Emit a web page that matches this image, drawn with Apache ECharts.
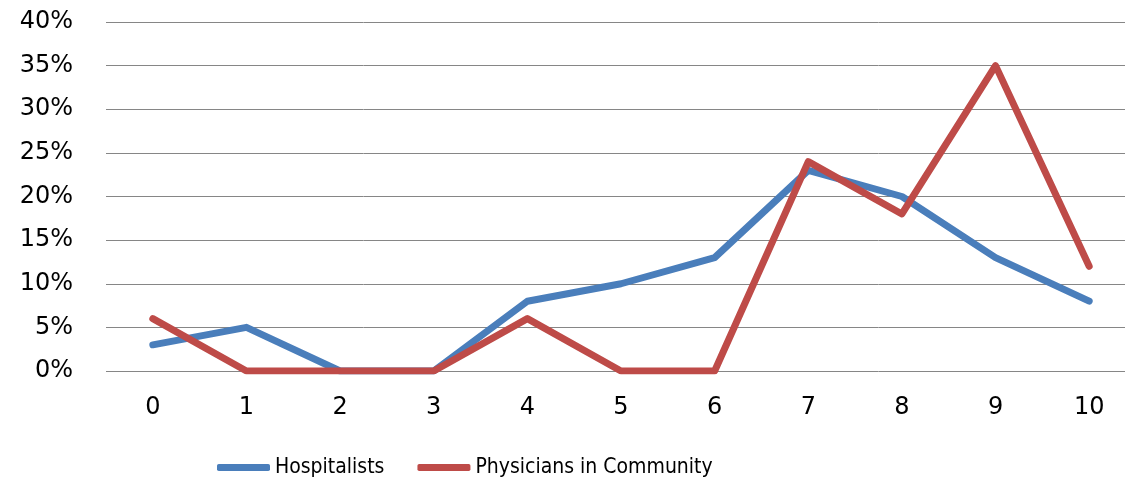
<!DOCTYPE html>
<html>
<head>
<meta charset="utf-8">
<script src="https://cdn.jsdelivr.net/npm/echarts@6/dist/echarts.min.js"></script>
<style>
  html, body { margin: 0; padding: 0; background: #fff; overflow: hidden; }
  /* plot runs slightly past the right edge of the window */
  #chart { width: 1136px; height: 482px; }
</style>
</head>
<body>
<div id="chart"></div>
<script>
// Share of respondents per score (0-10)
const scores = ['0', '1', '2', '3', '4', '5', '6', '7', '8', '9', '10'];
const hospitalists = [3, 5, 0, 0, 8, 10, 13, 23, 20, 13, 8];
const communityPhysicians = [6, 0, 0, 0, 6, 0, 0, 24, 18, 35, 12];
const yTicks = [0, 5, 10, 15, 20, 25, 30, 35, 40];

const chart = echarts.init(document.getElementById('chart'), null, { renderer: 'canvas' });

const axisFont = { fontFamily: 'DejaVu Sans', fontSize: 24, color: '#000' };

chart.setOption({
  animation: false,
  backgroundColor: '#fff',
  grid: { left: 106, top: 22, right: 0, height: 349, containLabel: false },
  xAxis: {
    type: 'category',
    data: scores,
    boundaryGap: true,
    axisLine: { show: false },
    axisTick: { show: false },
    axisLabel: Object.assign({ margin: 25 }, axisFont),
    splitLine: { show: false }
  },
  yAxis: {
    type: 'value',
    min: yTicks[0],
    max: yTicks[yTicks.length - 1],
    interval: 5,
    axisLine: { show: false },
    axisTick: { show: false },
    axisLabel: Object.assign({ margin: 33, formatter: v => v + '%' }, axisFont),
    splitLine: { lineStyle: { color: '#868686', width: 1 } }
  },
  legend: {
    left: 212,
    top: 452,
    itemWidth: 53,
    itemHeight: 7,
    itemGap: 33,
    icon: 'roundRect',
    textStyle: { fontFamily: '"Liberation Sans Narrow", "DejaVu Sans Condensed", sans-serif', fontSize: 21, color: '#000' },
    data: ['Hospitalists', 'Physicians in Community']
  },
  series: [
    {
      name: 'Hospitalists',
      type: 'line',
      data: hospitalists,
      symbol: 'none',
      color: '#4a7ebb',
      lineStyle: { width: 7, color: '#4a7ebb', join: 'round', cap: 'round' }
    },
    {
      name: 'Physicians in Community',
      type: 'line',
      data: communityPhysicians,
      symbol: 'none',
      color: '#be4b48',
      lineStyle: { width: 7, color: '#be4b48', join: 'round', cap: 'round' }
    }
  ]
});
</script>
</body>
</html>
